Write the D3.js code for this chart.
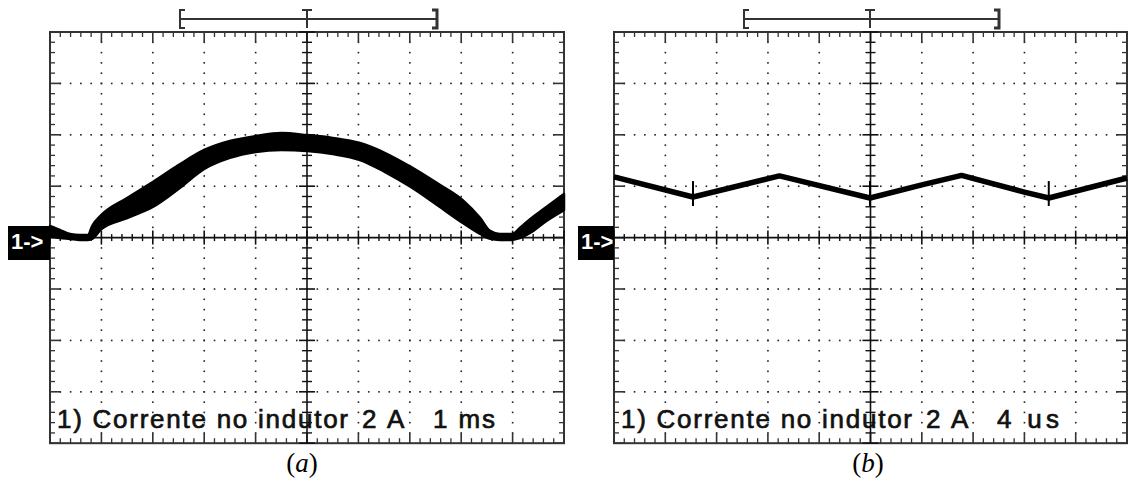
<!DOCTYPE html>
<html><head><meta charset="utf-8">
<script src="https://cdn.jsdelivr.net/npm/d3@7"></script>
<style>html,body{margin:0;padding:0;background:#fff;}svg{display:block;}</style>
</head><body>
<svg id="chart" width="1128" height="479"></svg>
<script>
// ---- data ----
// Panel (a): 1 ms/div, 2 A/div
const timeA  = [0,0.19,0.39,0.58,0.74,0.82,1.0,1.5,2.0,2.5,3.0,3.5,4.0,4.5,5.0,5.5,6.03,6.52,7.02,7.53,8.03,8.37,8.56,8.75,8.99,9.14,9.34,9.63,10.0];
const upperA = [0.45,0.30,0.14,0.10,0.10,0.45,0.88,1.54,2.16,2.82,3.41,3.76,3.95,4.07,3.99,3.88,3.68,3.29,2.75,2.12,1.46,0.76,0.26,0.14,0.14,0.37,0.72,1.15,1.70];
const lowerA = [0.06,-0.02,-0.05,-0.09,-0.09,-0.05,0.33,0.76,1.19,1.89,2.67,3.10,3.33,3.41,3.37,3.25,3.02,2.55,1.97,1.27,0.57,0.14,-0.05,-0.09,-0.09,-0.02,0.18,0.61,1.07];
// Panel (b): 4 us/div, 2 A/div
const timeB  = [0,6.16,12.9,19.96,24.0,27.1,32.0,33.9,40];
const valueB = [2.36,1.58,2.40,1.54,2.05,2.42,1.77,1.54,2.32];
const spikeTimesB = [6.16,19.96,33.9];
const spikeRangeB = [1.23,2.2];
// labels
const captionA = ["1) Corrente no indutor","2","A","1 ms"];
const captionB = ["1) Corrente no indutor","2","A","4 us"];
const panelLetters = ["a","b"];

const svg = d3.select("#chart");
const divW = 51.4, divH = 51.4;
const panels = [
  {x0:50, y0:32, w:514, t:timeA, up:upperA, lo:lowerA, cap:captionA, letter:panelLetters[0], tMax:10, mk:[8,50], br:[180,307,437], lx:302},
  {x0:614, y0:32, w:513, t:timeB, v:valueB, cap:captionB, letter:panelLetters[1], tMax:40, mk:[578,614], br:[744,870,999], lx:868}
];

panels.forEach((p,pi)=>{
  const h = 8*divH;
  const g = svg.append("g");
  const xs = d3.scaleLinear().domain([0,p.tMax]).range([p.x0,p.x0+p.w]);
  const xd = d3.scaleLinear().domain([0,10]).range([p.x0,p.x0+p.w]); // divisions
  const ys = d3.scaleLinear().domain([-8,8]).range([p.y0+h,p.y0]);
  const yd = d3.scaleLinear().domain([0,8]).range([p.y0,p.y0+h]);
  const cx = xd(5), cy = yd(4);
  const minorX = d3.range(0,50.001,1).map(i=>i/5);
  const minorY = d3.range(0,40.001,1).map(i=>i/5);

  // dotted grid
  const dots = [];
  for (let k=1;k<10;k++){ if(k===5) continue; minorY.forEach(v=>{ if(v>0&&v<8) dots.push([xd(k),yd(v)]); }); }
  for (let j=1;j<8;j++){ if(j===4) continue; minorX.forEach(v=>{ if(v>0&&v<10) dots.push([xd(v),yd(j)]); }); }
  g.selectAll("rect.dot").data(dots).join("rect").attr("class","dot")
    .attr("x",d=>d[0]-0.75).attr("y",d=>d[1]-0.75).attr("width",1.6).attr("height",1.6).attr("fill","#222");

  // caption
  const capY = 428;
  const cg = g.append("g").attr("font-family","'Liberation Sans',Arial,sans-serif").attr("font-size",26)
    .attr("fill","#111").attr("stroke","#111").attr("stroke-width",0.7);
  cg.append("text").attr("x",p.x0+7).attr("y",capY).attr("textLength",291).attr("lengthAdjust","spacing").text(p.cap[0]);
  cg.append("text").attr("x",p.x0+312).attr("y",capY).text(p.cap[1]);
  cg.append("text").attr("x",p.x0+337).attr("y",capY).text(p.cap[2]);
  cg.append("text").attr("x",p.x0+383).attr("y",capY).attr("textLength",62).attr("lengthAdjust","spacing").text(p.cap[3]);

  // frame
  g.append("rect").attr("x",p.x0).attr("y",p.y0).attr("width",p.w).attr("height",h)
    .attr("fill","none").attr("stroke","#333").attr("stroke-width",2);
  // border ticks
  minorX.forEach((v,i)=>{
    const major = i%5===0; const L = major?10:5; const x = xd(v);
    g.append("line").attr("x1",x).attr("x2",x).attr("y1",p.y0).attr("y2",p.y0+L).attr("stroke","#333").attr("stroke-width",major?1.6:1.3);
    g.append("line").attr("x1",x).attr("x2",x).attr("y1",p.y0+h).attr("y2",p.y0+h-L).attr("stroke","#333").attr("stroke-width",major?1.6:1.3);
  });
  minorY.forEach((v,i)=>{
    const major = i%5===0; const L = major?11:5; const y = yd(v);
    g.append("line").attr("y1",y).attr("y2",y).attr("x1",p.x0).attr("x2",p.x0+L).attr("stroke","#333").attr("stroke-width",major?1.6:1.3);
    g.append("line").attr("y1",y).attr("y2",y).attr("x1",p.x0+p.w).attr("x2",p.x0+p.w-L).attr("stroke","#333").attr("stroke-width",major?1.6:1.3);
  });
  // center axes
  g.append("line").attr("x1",p.x0).attr("x2",p.x0+p.w).attr("y1",cy).attr("y2",cy).attr("stroke","#111").attr("stroke-width",1.6);
  g.append("line").attr("x1",cx).attr("x2",cx).attr("y1",p.y0).attr("y2",p.y0+h).attr("stroke","#111").attr("stroke-width",1.6);
  minorX.forEach((v,i)=>{
    const major=i%5===0; const L=major?7:3.5; const x=xd(v);
    g.append("line").attr("x1",x).attr("x2",x).attr("y1",cy-L).attr("y2",cy+L).attr("stroke","#111").attr("stroke-width",major?1.6:1.4);
  });
  minorY.forEach((v,i)=>{
    const major=i%5===0; const L=major?8:5; const y=yd(v);
    g.append("line").attr("y1",y).attr("y2",y).attr("x1",cx-L).attr("x2",cx+L).attr("stroke","#111").attr("stroke-width",major?1.6:1.4);
  });

  // trace
  if (p.up){
    const data = p.t.map((t,i)=>({t,u:p.up[i],l:p.lo[i]}));
    g.append("path").datum(data)
      .attr("d",d3.area().x(d=>xs(d.t)).y0(d=>ys(d.l)).y1(d=>ys(d.u)).curve(d3.curveMonotoneX))
      .attr("fill","#000").attr("stroke","#000").attr("stroke-width",2.5).attr("stroke-linejoin","round");
  } else {
    const data = p.t.map((t,i)=>({t,v:p.v[i]}));
    g.append("path").datum(data)
      .attr("d",d3.line().x(d=>xs(d.t)).y(d=>ys(d.v)))
      .attr("fill","none").attr("stroke","#000").attr("stroke-width",5.5).attr("stroke-linejoin","round");
    g.selectAll("line.spike").data(spikeTimesB).join("line").attr("class","spike")
      .attr("x1",d=>xs(d)).attr("x2",d=>xs(d)).attr("y1",ys(spikeRangeB[1])).attr("y2",ys(spikeRangeB[0]))
      .attr("stroke","#000").attr("stroke-width",2);
  }

  // channel marker
  g.append("rect").attr("x",p.mk[0]).attr("y",226).attr("width",p.mk[1]-p.mk[0]).attr("height",34).attr("fill","#000");
  g.append("text").attr("x",p.mk[0]+3).attr("y",249).attr("font-family","'Liberation Sans',Arial,sans-serif")
    .attr("font-size",22).attr("font-weight","bold").attr("fill","#fff").text("1->");

  // trigger bracket
  const [bl,bt,brx] = p.br; const by=19;
  const bs = g.append("g").attr("stroke","#333").attr("fill","none");
  bs.append("line").attr("x1",bl).attr("x2",brx).attr("y1",by).attr("y2",by).attr("stroke-width",2);
  bs.append("path").attr("d",`M${bl+5},10H${bl}V28H${bl+5}`).attr("stroke-width",2);
  bs.append("path").attr("d",`M${brx-5},10H${brx}V28H${brx-5}`).attr("stroke-width",3);
  bs.append("path").attr("d",`M${bt-5},10H${bt+5}M${bt},10V28`).attr("stroke-width",2);

  // panel label
  const lt = svg.append("text").attr("x",p.lx).attr("y",472).attr("text-anchor","middle")
    .attr("font-family","'Liberation Serif','Times New Roman',serif").attr("font-size",27).attr("fill","#000");
  lt.append("tspan").text("(");
  lt.append("tspan").attr("font-style","italic").text(p.letter);
  lt.append("tspan").text(")");
});
</script>
</body></html>
